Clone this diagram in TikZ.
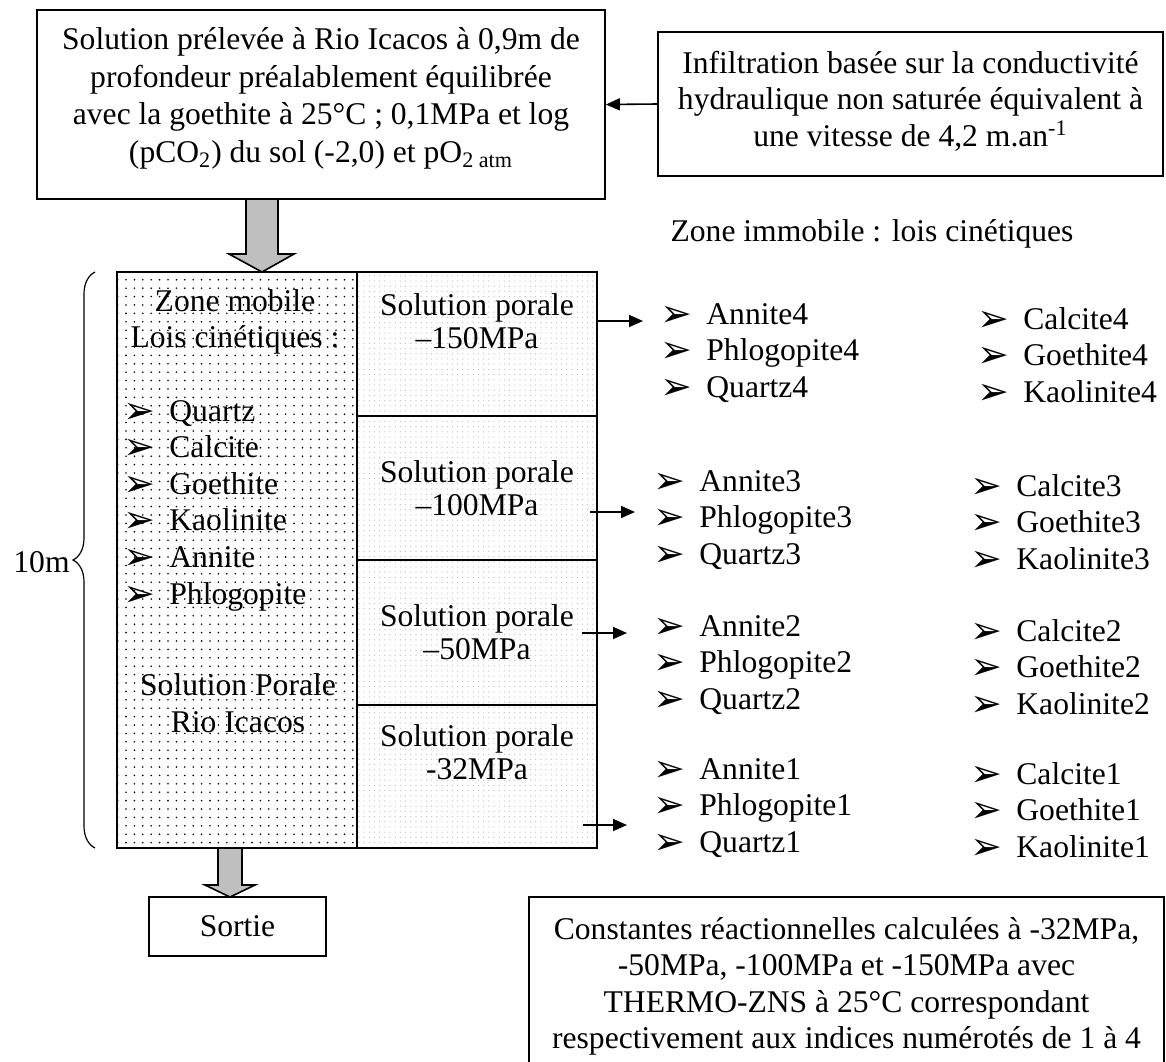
\documentclass[tikz,border=0pt]{standalone}
\usepackage{fontspec}
\setmainfont{Liberation Serif}
\newfontfamily\dingfont{DejaVu Sans}
\usetikzlibrary{arrows.meta,patterns.meta,decorations.pathreplacing}

\newcommand{\bul}{\makebox[23pt][l]{\raisebox{-1pt}{\dingfont\fontsize{19}{19}\selectfont ➢}}}

\begin{document}
\begin{tikzpicture}[x=0.5pt,y=-0.5pt,
                    every node/.style={font=\fontsize{15.8}{18.2}\selectfont,inner sep=0pt},
                    box/.style={draw,line width=0.8pt,align=center},
                    cell/.style={draw,line width=0.8pt},
                    mobfill/.style={pattern={Dots[distance=4.2pt,radius=0.45pt]},pattern color=black},
                    porfill/.style={pattern={Dots[distance=2.6pt,radius=0.35pt]},pattern color=gray!45},
                    flow/.style={draw,line width=0.8pt,fill=gray!50},
                    feed/.style={line width=0.8pt,-{Triangle[length=7pt,width=6pt]}}]
  \useasboundingbox (0,0) rectangle (1166,1061);
  % inlet solution and infiltration rate
  \node[box,minimum width=284pt,minimum height=94.5pt,font=\fontsize{15.8}{18.8}\selectfont] (src) at (321,104.5)
    {Solution prélevée à Rio Icacos à 0,9m de\\ profondeur préalablement équilibrée\\ avec la goethite à 25°C ; 0,1MPa et log\\ (pCO\textsubscript{2}) du sol (-2,0) et pO\textsubscript{2 atm}\rule[-9.5pt]{0pt}{0pt}};
  \node[box,minimum width=252.5pt,minimum height=72pt] (info) at (910.5,104)
    {Infiltration basée sur la conductivité\\ hydraulique non saturée équivalent à\\ une vitesse de 4,2 m.an\textsuperscript{-1}\rule[-5.5pt]{0pt}{0pt}};
  \draw[feed] (info.west) -- (src.east);
  \node[anchor=base] (immob) at (872,241) {Zone immobile : lois cinétiques};

  % soil column: mobile zone and four pore solutions
  \node[cell,mobfill,minimum width=120pt,minimum height=288pt] (mobile) at (237,560) {};
  \foreach \n/\yc/\h in {4/344/72,3/488/72,2/632.5/72.5,1/776.5/71.5}
    \node[cell,porfill,minimum width=120pt,minimum height=\h pt] (p\n) at (477,\yc) {};
  \draw[flow] (246,199) -- (246,254) -- (229,254) -- (262,272) -- (294,254) -- (278,254) -- (278,199) -- cycle;

  \node[align=center] (zm) at (235,322) {Zone mobile\\ Lois cinétiques :};
  \foreach \m [count=\i from 0] in {Quartz,Calcite,Goethite,Kaolinite,Annite,Phlogopite}
    \node[anchor=base west] (m\i) at (123,421+36.6*\i) {\bul\m};
  \node[align=center] (rio) at (238,703) {Solution Porale\\ Rio Icacos};

  \node[align=center,font=\fontsize{15.8}{16.8}\selectfont] (l4) at (477,321) {Solution porale\\ –150MPa};
  \node[align=center,font=\fontsize{15.8}{16.8}\selectfont] (l3) at (477,488) {Solution porale\\ –100MPa};
  \node[align=center,font=\fontsize{15.8}{16.8}\selectfont] (l2) at (477,632) {Solution porale\\ –50MPa};
  \node[align=center,font=\fontsize{15.8}{16.8}\selectfont] (l1) at (477,752) {Solution porale\\ -32MPa};

  % minerals of the immobile zone
  \foreach \g/\y/\dx in {4/313/7,3/480/0,2/625/0,1/768/0}{
    \node[anchor=base west] (a\g)  at (653+\dx,\y+11)   {\bul Annite\g};
    \node[anchor=base west] (ph\g) at (653+\dx,\y+47.5) {\bul Phlogopite\g};
    \node[anchor=base west] (q\g)  at (653+\dx,\y+84)   {\bul Quartz\g};
    \node[anchor=base west] (c\g)  at (970+\dx,\y+16)   {\bul Calcite\g};
    \node[anchor=base west] (go\g) at (970+\dx,\y+52.5) {\bul Goethite\g};
    \node[anchor=base west] (k\g)  at (970+\dx,\y+89)   {\bul Kaolinite\g};
  }
  \foreach \g/\ys/\xs/\xe in {4/321/597/643,3/512/590/635,2/633/582/627,1/825/583/627}{
    \coordinate (s\g) at (\xs,\ys);
    \coordinate (e\g) at (\xe,\ys);
    \draw[feed] (s\g) -- (e\g);
  }

  % column depth
  \coordinate (bb) at (95,848);
  \coordinate (bt) at (95,272);
  \draw[line width=0.6pt,decorate,decoration={brace,amplitude=11pt}] (bb) -- (bt);
  \node[anchor=east] (depth) at (70,562) {10m};

  % outlet and thermodynamic constants
  \draw[flow] (218,848) -- (218,885) -- (205,885) -- (230,897) -- (255,885) -- (242,885) -- (242,848) -- cycle;
  \node[box,minimum width=88.5pt,minimum height=29.5pt] (out) at (237.5,926.5) {Sortie};
  \node[box,minimum width=317.5pt,minimum height=89.5pt] (consts) at (846.5,986.5)
    {Constantes réactionnelles calculées à -32MPa,\\ -50MPa, -100MPa et -150MPa avec\\ THERMO-ZNS à 25°C correspondant\\ respectivement aux indices numérotés de 1 à 4};
\end{tikzpicture}
\end{document}
